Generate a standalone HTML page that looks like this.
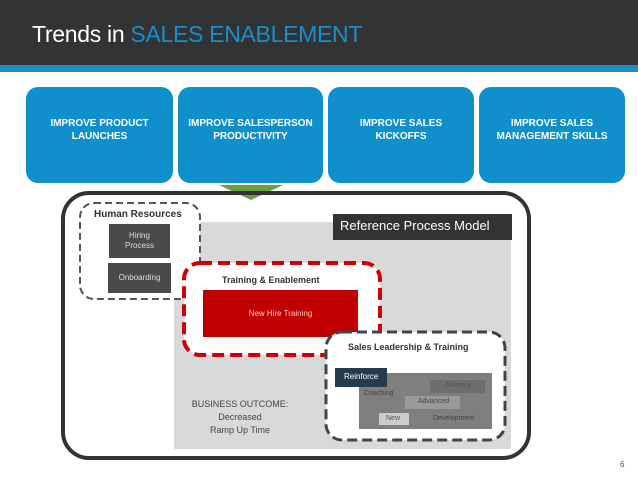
<!DOCTYPE html>
<html><head><style>
body{margin:0;width:638px;height:479px;position:relative;background:#fff;font-family:"Liberation Sans",sans-serif;overflow:hidden}
div{position:absolute;box-sizing:border-box}
.bl{background:#0f8fcc;border-radius:12px;color:#fff;font-weight:bold;font-size:10px;text-align:center;padding-top:30px;line-height:13px;top:87px;height:96px}
.t{white-space:nowrap}
</style></head><body>
<div style="left:0;top:0;width:638px;height:65px;background:#323334"></div>
<div style="left:0;top:65px;width:638px;height:7px;background:#1b8ec9"></div>
<div class="t" style="left:32px;top:21px;font-size:23px;letter-spacing:-0.3px;color:#fff">Trends in <span style="color:#1b8ec9">SALES ENABLEMENT</span></div>
<div class="bl" style="left:26px;width:147px">IMPROVE PRODUCT<br>LAUNCHES</div>
<div class="bl" style="left:178px;width:145px">IMPROVE SALESPERSON<br>PRODUCTIVITY</div>
<div class="bl" style="left:328px;width:146px">IMPROVE SALES<br>KICKOFFS</div>
<div class="bl" style="left:479px;width:146px">IMPROVE SALES<br>MANAGEMENT SKILLS</div>
<svg style="position:absolute;left:0;top:0" width="638" height="479">
<polygon points="219,185 283,185 251,200" fill="#6a9f3a"/>
<rect x="63" y="193" width="466" height="265" rx="26" fill="none" stroke="#333" stroke-width="4"/>
<rect x="174" y="222" width="337" height="227" fill="#d9d9d9"/>
<rect x="80" y="203" width="120" height="96" rx="14" fill="#fff" stroke="#555" stroke-width="2" stroke-dasharray="7,4"/>
<rect x="184" y="263" width="196" height="92" rx="16" fill="#fff" stroke="#c00" stroke-width="4" stroke-dasharray="12,6"/>
<rect x="203" y="290" width="155" height="47" fill="#c00000"/>
<rect x="326" y="332" width="179" height="108" rx="16" fill="#fff" stroke="#3a4752" stroke-width="3" stroke-dasharray="10,5"/>
<rect x="109" y="224" width="61" height="34" fill="#4a4a4a"/>
<rect x="108" y="263" width="63" height="30" fill="#4a4a4a"/>
<rect x="333" y="214" width="179" height="26" fill="#333"/>
<rect x="359" y="373" width="133" height="56" fill="#7f7f7f"/>
<rect x="430" y="380" width="55" height="13" fill="#6e6e6e"/>
<rect x="405" y="396" width="55" height="13" fill="#999"/>
<rect x="379" y="413" width="30" height="12" fill="#ccc"/>
<rect x="335" y="368" width="52" height="19" fill="#253b4e"/>
</svg>
<div class="t" style="left:94px;top:209px;font-size:10px;font-weight:bold;color:#333">Human Resources</div>
<div style="left:109px;top:231px;width:61px;text-align:center;font-size:8px;color:#ddd;line-height:10px">Hiring<br>Process</div>
<div style="left:108px;top:273px;width:63px;text-align:center;font-size:8px;color:#ddd">Onboarding</div>
<div class="t" style="left:340px;top:218px;font-size:13px;color:#fff">Reference Process Model</div>
<div class="t" style="left:222px;top:275px;font-size:9px;font-weight:bold;color:#333">Training &amp; Enablement</div>
<div style="left:203px;top:309px;width:155px;text-align:center;font-size:8px;color:#fcc">New Hire Training</div>
<div class="t" style="left:348px;top:342px;font-size:9px;font-weight:bold;color:#333">Sales Leadership &amp; Training</div>
<div class="t" style="left:344px;top:372px;font-size:8px;color:#fff">Reinforce</div>
<div class="t" style="left:364px;top:390px;font-size:7px;color:#444">Coaching</div>
<div class="t" style="left:446px;top:382px;font-size:7px;color:#555">Mastery</div>
<div class="t" style="left:418px;top:398px;font-size:7px;color:#444">Advanced</div>
<div class="t" style="left:386px;top:415px;font-size:7px;color:#555">New</div>
<div class="t" style="left:433px;top:415px;font-size:7px;color:#444">Development</div>
<div style="left:185px;top:398px;width:110px;text-align:center;font-size:9px;color:#444;line-height:13px">BUSINESS OUTCOME:<br>Decreased<br>Ramp Up Time</div>
<div class="t" style="left:620px;top:460px;font-size:8px;color:#555">6</div>
</body></html>
